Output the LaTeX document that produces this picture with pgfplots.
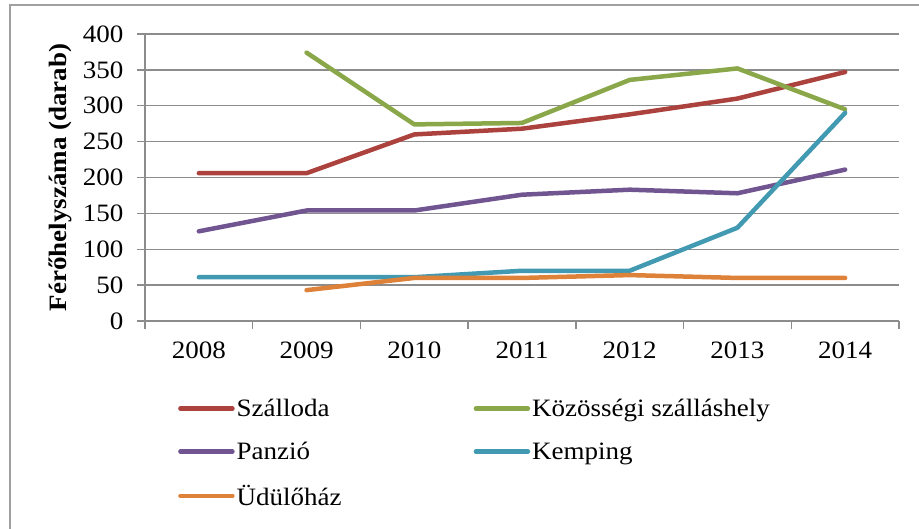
\documentclass[border=0pt]{standalone}
\usepackage{pgfplots}
\pgfplotsset{compat=1.18}
\usepackage{fontspec}
\setmainfont{Liberation Serif}[FakeStretch=1.08]
\definecolor{cSz}{RGB}{172,66,62}
\definecolor{cKo}{RGB}{138,167,73}
\definecolor{cPa}{RGB}{112,85,145}
\definecolor{cKe}{RGB}{65,153,178}
\definecolor{cUd}{RGB}{222,129,57}
\definecolor{cGrid}{RGB}{140,140,140}
\begin{document}
\begin{tikzpicture}
\useasboundingbox (0pt,0pt) rectangle (919pt,529pt);
\draw[line width=1.6pt, color={rgb,255:red,160;green,160;blue,160}] (10pt,-2pt) -- (10pt,524pt) -- (925pt,524pt);
\begin{axis}[
  at={(145pt,208pt)}, anchor=south west,
  scale only axis, width=754pt, height=287pt,
  xmin=-0.5, xmax=6.5, ymin=0, ymax=400,
  xtick={0,...,6},
  xticklabels={2008,2009,2010,2011,2012,2013,2014},
  minor xtick={-0.5,0.5,...,6.5},
  ytick={0,50,...,400},
  major x tick style={draw=none},
  tick align=outside,
  major tick length=8pt, minor tick length=8pt,
  every tick/.style={cGrid, line width=1.3pt},
  axis x line*=bottom, axis y line*=left,
  axis line style={cGrid, line width=1.3pt, -},
  ymajorgrids, grid style={cGrid, line width=1.3pt},
  /pgf/number format/assume math mode=true,
  tick label style={font=\fontsize{25}{29}\selectfont},
  yticklabel style={xshift=-10pt},
  xticklabel style={yshift=-9pt},
  legend columns=2,
  legend cell align=left,
  legend style={draw=none, fill=none, at={(rel axis cs:0,0)}, anchor=north west, xshift=30pt, yshift=-74pt,
    font=\fontsize{25}{29}\selectfont, row sep=20pt,
    /tikz/every even column/.append style={column sep=130pt}},
  legend image code/.code={\draw[#1, line width=4.5pt, line cap=round] (0pt,0pt) -- (52pt,0pt);},
  every axis plot/.append style={line width=4.5pt, line cap=round, line join=round},
  clip=false,
]
\addplot[cSz] coordinates {(0,206) (1,206) (2,260) (3,268) (4,288) (5,310) (6,347)};
\addlegendentry{Szálloda}
\addplot[cKo] coordinates {(1,374) (2,274) (3,276) (4,336) (5,352) (6,295)};
\addlegendentry{Közösségi szálláshely}
\addplot[cPa] coordinates {(0,125) (1,154) (2,154) (3,176) (4,183) (5,178) (6,211)};
\addlegendentry{Panzió}
\addplot[cKe] coordinates {(0,61) (1,61) (2,61) (3,70) (4,70) (5,130) (6,290)};
\addlegendentry{Kemping}
\addplot[cUd] coordinates {(1,43) (2,60) (3,60) (4,64) (5,60) (6,60)};
\addlegendentry{Üdülőház}
\end{axis}
\node[rotate=90, anchor=center, font=\fontsize{25}{29}\selectfont\bfseries] at (60pt,351.5pt) {Férőhelyszáma (darab)};
\end{tikzpicture}
\end{document}
